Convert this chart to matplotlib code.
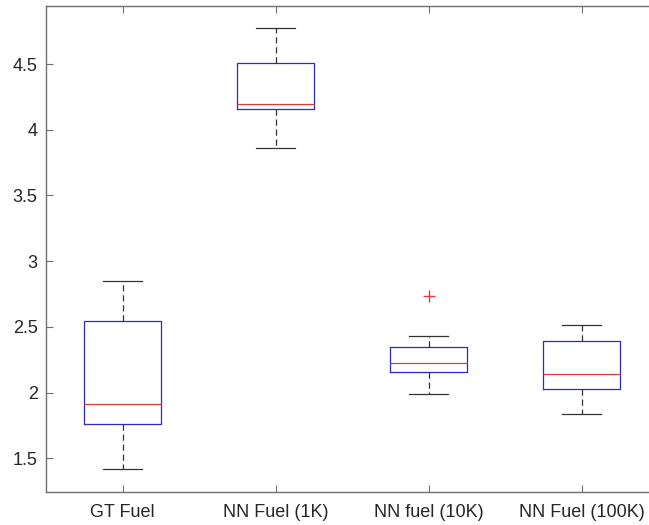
import matplotlib
matplotlib.use("Agg")
import matplotlib.pyplot as plt

labels = ["GT Fuel", "NN Fuel (1K)", "NN fuel (10K)", "NN Fuel (100K)"]
whisker_low = [1.419, 3.863, 1.991, 1.839]
q1 = [1.758, 4.154, 2.156, 2.027]
medians = [1.915, 4.192, 2.227, 2.143]
q3 = [2.543, 4.511, 2.348, 2.391]
whisker_high = [2.847, 4.775, 2.432, 2.511]
outliers = [[], [], [2.736], []]

plt.rcParams['font.family'] = ['Liberation Sans', 'DejaVu Sans']

stats = []
for i in range(len(labels)):
    stats.append(dict(label=labels[i], whislo=whisker_low[i], q1=q1[i], med=medians[i],
                      q3=q3[i], whishi=whisker_high[i], fliers=outliers[i]))

fig = plt.figure(figsize=(6.49, 5.25), dpi=100)
ax = fig.add_axes([0.0709, 0.0629, 0.9430, 0.9266])

ax.bxp(stats, widths=0.5, showfliers=True,
       boxprops=dict(color='#2a2ad0', linewidth=0.9),
       medianprops=dict(color='#e03c3c', linewidth=0.9),
       whiskerprops=dict(color='#333333', linewidth=0.9, linestyle=(0, (5, 3))),
       capprops=dict(color='#333333', linewidth=0.9),
       flierprops=dict(marker='+', markeredgecolor='#e03c3c', markersize=8, linestyle='none'))

ax.set_ylim(1.244, 4.945)
ax.set_xlim(0.5, 4.5)
ax.set_yticks([1.5, 2, 2.5, 3, 3.5, 4, 4.5])
ax.set_yticklabels(['1.5', '2', '2.5', '3', '3.5', '4', '4.5'])

for s in ax.spines.values():
    s.set_color('#707070')
    s.set_linewidth(1.0)
ax.tick_params(direction='in', length=5, width=0.8, color='#707070',
               labelsize=13, labelcolor='#262626', top=True, right=True, pad=6)
ax.tick_params(axis='x', pad=9)

fig.savefig("out.png", dpi=100)
